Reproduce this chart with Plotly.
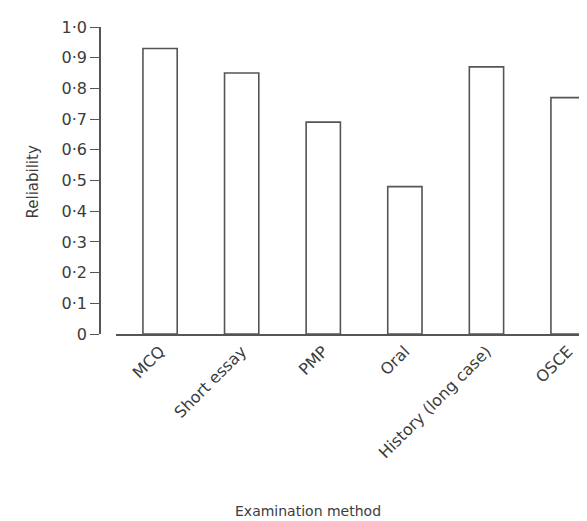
import plotly.graph_objects as go

categories = ["MCQ", "Short essay", "PMP", "Oral", "History (long case)", "OSCE"]
reliability = [0.93, 0.85, 0.69, 0.48, 0.87, 0.77]
tick_vals = [0, 0.1, 0.2, 0.3, 0.4, 0.5, 0.6, 0.7, 0.8, 0.9, 1.0]
tick_text = ["0", "0·1", "0·2", "0·3", "0·4", "0·5", "0·6", "0·7", "0·8", "0·9", "1·0"]

axis_col = "#555555"
text_col = "#3c3c3c"
font_family = "DejaVu Sans, Liberation Sans, sans-serif"

W, H = 587, 521
ML, MT, MB = 92, 19, 195
plot_w = W - ML

fig = go.Figure(
    go.Bar(
        x=categories,
        y=reliability,
        marker=dict(color="white", line=dict(color=axis_col, width=1.6)),
        width=0.42,
    )
)

fig.update_layout(
    width=W,
    height=H,
    margin=dict(l=ML, r=0, t=MT, b=MB),
    paper_bgcolor="white",
    plot_bgcolor="white",
    showlegend=False,
    font=dict(family=font_family, color=text_col, size=15),
    annotations=[
        dict(
            text="Reliability", xref="paper", yref="paper", x=0, y=0.5,
            xanchor="center", yanchor="middle", xshift=24 - ML, yshift=-2,
            textangle=-90, showarrow=False,
            font=dict(size=15, color=text_col, family=font_family),
        ),
        dict(
            text="Examination method", xref="paper", yref="paper",
            x=(300 - ML) / plot_w, y=0,
            xanchor="center", yanchor="middle", yshift=-(503 - 326), showarrow=False,
            font=dict(size=14, color=text_col, family=font_family),
        ),
    ],
)

fig.update_xaxes(
    type="category",
    domain=[16 / plot_w, 1],
    range=[-0.54, 5.33],
    showline=True, linecolor=axis_col, linewidth=1.6,
    ticks="", tickangle=-45,
    tickfont=dict(size=16, color=text_col),
    showgrid=False, zeroline=False,
)
fig.update_yaxes(
    anchor="free", position=0,
    range=[0, 1.0],
    tickvals=tick_vals, ticktext=tick_text,
    showline=True, linecolor=axis_col, linewidth=1.6,
    ticks="outside", ticklen=9, tickcolor=axis_col, tickwidth=1.4,
    tickfont=dict(size=16, color=text_col),
    showgrid=False, zeroline=False,
)

fig.write_html("out.html")
